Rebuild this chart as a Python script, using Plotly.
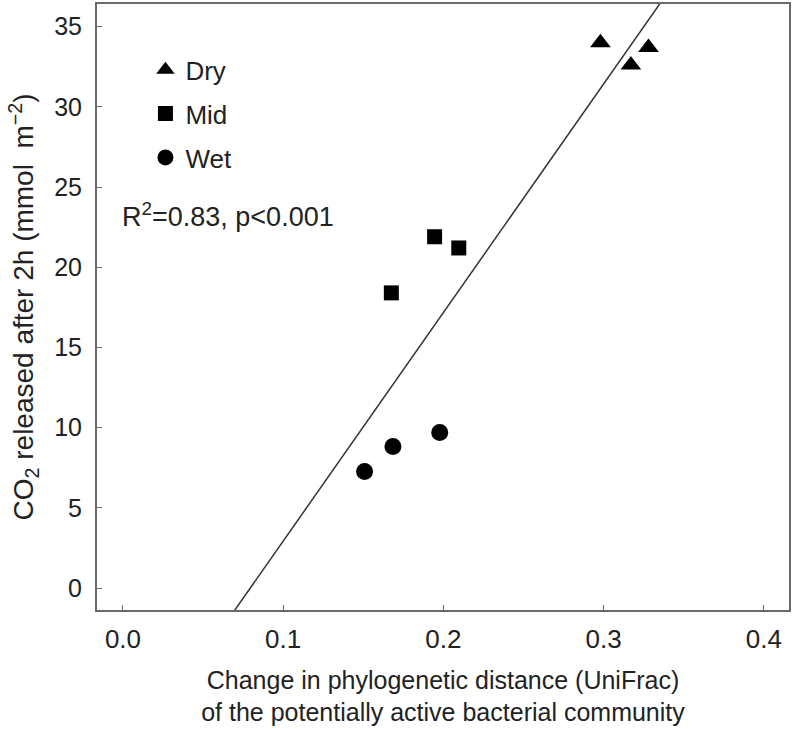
import numpy as np
import plotly.graph_objects as go

# Data
dry_x = [0.298, 0.328, 0.317]
dry_y = [34.0, 33.7, 32.6]
mid_x = [0.1945, 0.2096, 0.1675]
mid_y = [21.9, 21.2, 18.4]
wet_x = [0.1508, 0.1685, 0.1977]
wet_y = [7.27, 8.82, 9.69]

x_ticks = [0.0, 0.1, 0.2, 0.3, 0.4]
y_ticks = [0, 5, 10, 15, 20, 25, 30, 35]

FONT = "Liberation Sans, Arial, sans-serif"
TXT = "#222222"

all_x = np.array(dry_x + mid_x + wet_x)
all_y = np.array(dry_y + mid_y + wet_y)
slope, intercept = np.polyfit(all_x, all_y, 1)
line_x = np.array([-0.02, 0.42])
line_y = slope * line_x + intercept

fig = go.Figure()
fig.add_trace(go.Scatter(x=line_x, y=line_y, mode="lines",
                         line=dict(color="#333333", width=1.5),
                         showlegend=False, hoverinfo="skip"))
fig.add_trace(go.Scatter(x=dry_x, y=dry_y, mode="markers", name="Dry",
                         legendgroup="dry",
                         marker=dict(symbol="triangle-up", size=18, color="black")))
fig.add_trace(go.Scatter(x=mid_x, y=mid_y, mode="markers", name="Mid",
                         legendgroup="mid",
                         marker=dict(symbol="square", size=15, color="black")))
fig.add_trace(go.Scatter(x=wet_x, y=wet_y, mode="markers", name="Wet",
                         legendgroup="wet",
                         marker=dict(symbol="circle", size=17, color="black")))

axis_common = dict(
    showline=True, linecolor="#6a6a6a", linewidth=2, mirror=True,
    ticks="inside", ticklen=5, tickcolor="#6a6a6a", tickwidth=1,
    showgrid=False, zeroline=False, automargin=False,
)

fig.update_xaxes(**axis_common, range=[-0.0162, 0.4157],
                 tickvals=x_ticks, tickformat=".1f", ticklabelstandoff=5,
                 tickfont=dict(family=FONT, size=26, color=TXT),
                 title=dict(text="Change in phylogenetic distance (UniFrac)<br>of the potentially active bacterial community",
                            font=dict(family=FONT, size=25, color=TXT), standoff=18))
fig.update_yaxes(**axis_common, range=[-1.37, 36.41],
                 tickvals=y_ticks, ticklabelstandoff=8,
                 tickfont=dict(family=FONT, size=25, color=TXT),
                 title=dict(text="CO<sub>2</sub> released after 2h (mmol  m<sup>\u22122</sup>)",
                            font=dict(family=FONT, size=28, color=TXT), standoff=12))

fig.add_annotation(x=0.033, y=0.652, xref="paper", yref="paper",
                   xanchor="left", yanchor="middle", showarrow=False,
                   text="R<sup>2</sup>=0.83, p&lt;0.001",
                   font=dict(family=FONT, size=27, color=TXT))

fig.update_layout(
    width=794, height=729,
    margin=dict(l=97, r=5, t=4, b=119),
    paper_bgcolor="white", plot_bgcolor="white",
    showlegend=True,
    legend=dict(x=0.07, y=0.93, xanchor="left", yanchor="top",
                bgcolor="rgba(0,0,0,0)", tracegroupgap=7,
                font=dict(family=FONT, size=26, color=TXT)),
)

fig.write_html("out.html", config={"displayModeBar": False},
               post_script="document.body.style.margin='0px';")
